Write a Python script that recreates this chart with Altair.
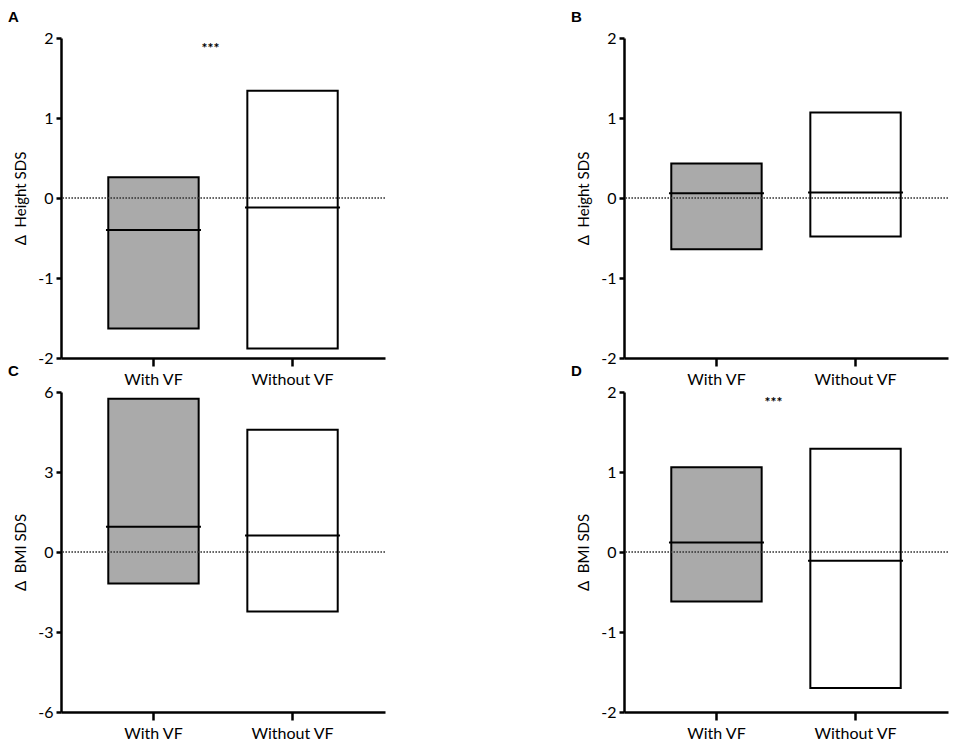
import altair as alt
import pandas as pd

categories = ["With VF", "Without VF"]

# panel A: Δ Height SDS
a_top = [0.26, 1.34]
a_bottom = [-1.63, -1.88]
a_median = [-0.40, -0.12]
# panel B: Δ Height SDS
b_top = [0.43, 1.07]
b_bottom = [-0.64, -0.48]
b_median = [0.06, 0.07]
# panel C: Δ BMI SDS
c_top = [5.75, 4.58]
c_bottom = [-1.18, -2.23]
c_median = [0.95, 0.62]
# panel D: Δ BMI SDS
d_top = [1.06, 1.29]
d_bottom = [-0.62, -1.70]
d_median = [0.12, -0.11]

FONT = "Lato"
W, H = 324, 320


def panel(letter, top, bottom, median, ytitle, ydomain, yticks, stars):
    df = pd.DataFrame({"group": categories, "top": top, "bottom": bottom, "median": median})
    xs = alt.Scale(domain=categories, paddingInner=0.35, paddingOuter=0.34)
    ys = alt.Scale(domain=ydomain, nice=False, zero=False)
    x = alt.X("group:N", scale=xs, sort=categories,
              axis=alt.Axis(title=None, labelAngle=0, tickSize=8, labelPadding=5,
                            labelFontSize=16, labelFont=FONT, domainWidth=2.5, tickWidth=2.5,
                            domainColor="#000000", tickColor="#000000", labelColor="#000000"))
    y_axis = alt.Axis(title=ytitle, values=yticks, tickSize=5, labelPadding=3,
                      labelFontSize=16, labelFont=FONT, titleFontSize=15, titleFont=FONT,
                      titleFontWeight="normal", titlePadding=9, domainWidth=2.5, tickWidth=2.5,
                      domainColor="#000000", tickColor="#000000", labelColor="#000000",
                      titleColor="#000000", labelExpr="'' + datum.value")
    base = alt.Chart(df)
    zero = base.mark_rule(color="#333333", strokeWidth=1, strokeDash=[1.5, 1.5]).encode(
        y=alt.datum(0, scale=ys)
    )
    bars = base.mark_bar(stroke="black", strokeWidth=2, opacity=1).encode(
        x=x,
        y=alt.Y("top:Q", scale=ys, axis=y_axis),
        y2="bottom:Q",
        fill=alt.Fill("group:N", scale=alt.Scale(domain=categories, range=["#aaaaaa", "#ffffff"]),
                      legend=None),
    )
    med = base.mark_tick(color="black", thickness=2, size=95, orient="horizontal", opacity=1).encode(
        x=x, y=alt.Y("median:Q", scale=ys)
    )
    lab = alt.Chart(pd.DataFrame({"t": [letter]})).mark_text(
        font="Liberation Sans", fontWeight="bold", fontSize=15, align="left", baseline="alphabetic",
        color="black"
    ).encode(text="t:N", x=alt.value(-53), y=alt.value(-16))
    layers = [bars, zero, med, lab]
    if stars:
        st = alt.Chart(pd.DataFrame({"t": ["***"], "g": [categories[0]], "v": [stars]})).mark_text(
            font=FONT, fontWeight="bold", fontSize=14, dx=57, baseline="middle", color="black"
        ).encode(text="t:N", x=alt.X("g:N", scale=xs), y=alt.Y("v:Q", scale=ys))
        layers.append(st)
    return alt.layer(*layers).properties(width=W, height=H)


pA = panel("A", a_top, a_bottom, a_median, "Δ\u00a0 Height SDS", [-2, 2], [-2, -1, 0, 1, 2], 1.86)
pB = panel("B", b_top, b_bottom, b_median, "Δ\u00a0 Height SDS", [-2, 2], [-2, -1, 0, 1, 2], None)
pC = panel("C", c_top, c_bottom, c_median, "Δ\u00a0 BMI SDS", [-6, 6], [-6, -3, 0, 3, 6], None)
pD = panel("D", d_top, d_bottom, d_median, "Δ\u00a0 BMI SDS", [-2, 2], [-2, -1, 0, 1, 2], 1.86)

chart = alt.concat(pA, pB, pC, pD, columns=2, spacing={"row": 34, "column": 239}, bounds="flush").properties(
    padding={"left": 0, "top": 2, "right": 0, "bottom": 0}, background="white"
).configure_view(stroke=None).configure_axis(grid=False)

chart.save("out.html", embed_options={"renderer": "svg", "actions": False})
